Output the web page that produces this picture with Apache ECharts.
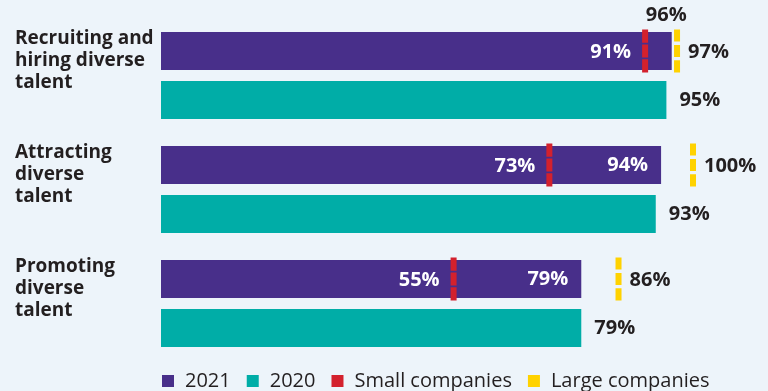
<!DOCTYPE html>
<html>
<head>
<meta charset="utf-8">
<script src="https://cdn.jsdelivr.net/npm/echarts@6/dist/echarts.min.js"></script>
<style>
  html, body { margin: 0; padding: 0; background: #EDF4FA; }
  #chart { width: 768px; height: 391px; }
</style>
</head>
<body>
<div id="chart"></div>
<script>
// Data
const categories = ['Recruiting and\nhiring diverse\ntalent', 'Attracting\ndiverse\ntalent', 'Promoting\ndiverse\ntalent'];
const values2021 = [96, 94, 79];
const values2020 = [95, 93, 79];
const smallCompanies = [91, 73, 55];
const largeCompanies = [97, 100, 86];
const seriesNames = ['2021', '2020', 'Small companies', 'Large companies'];

// Styling
const colors = ['#482F8A', '#00ADA7', '#D3212D', '#FFD200'];
const FONT = '"Open Sans", sans-serif';
const DARK = '#231F20';
const VALUE_SIZE = 20;
const BAR_W = 38;
const BAR_GAP = 11;
const MARK_LEN = 43;

const chart = echarts.init(document.getElementById('chart'), null, { renderer: 'canvas' });

// Bar label for 2021: drawn above the bar end when the large-company marker sits right next to it
const data2021 = values2021.map((v, i) => {
  if (largeCompanies[i] - v < 3) {
    return {
      value: v,
      label: { position: 'insideTopRight', distance: 0, offset: [15, -27], color: DARK }
    };
  }
  return v;
});

function markerSeries(name, values, color, dash, side, labelColor) {
  return {
    type: 'custom',
    name: name,
    itemStyle: { color: color },
    data: values.map((v, i) => [v, i]),
    encode: { x: 0, y: 1 },
    z: 5,
    renderItem: function (params, api) {
      const p = api.coord([api.value(0), api.value(1)]);
      const cy = p[1] - (BAR_W + BAR_GAP) / 2;
      const left = side === 'left';
      return {
        type: 'group',
        children: [
          {
            type: 'line',
            shape: { x1: p[0], y1: cy - MARK_LEN / 2, x2: p[0], y2: cy + MARK_LEN / 2 },
            style: { stroke: color, lineWidth: 6, lineDash: dash, lineCap: 'butt' }
          },
          {
            type: 'text',
            x: p[0] + (left ? -14 : 11),
            y: cy + 1,
            style: {
              text: api.value(0) + '%',
              fill: labelColor,
              fontFamily: FONT,
              fontWeight: 'bold',
              fontSize: VALUE_SIZE,
              align: left ? 'right' : 'left',
              verticalAlign: 'middle'
            }
          }
        ]
      };
    }
  };
}

const option = {
  backgroundColor: '#EDF4FA',
  animation: false,
  grid: { left: 161, right: 75, top: 18.5, bottom: 30.5 },
  xAxis: { type: 'value', min: 0, max: 100, show: false },
  yAxis: {
    type: 'category',
    data: categories,
    inverse: true,
    axisLine: { show: false },
    axisTick: { show: false },
    splitLine: { show: false },
    axisLabel: {
      align: 'left',
      margin: 146,
      verticalAlign: 'middle',
      formatter: function (v) {
        // category name lines, plus a spacer so the block hangs from the top of the band
        return v.split('\n').map(s => '{t|' + s + '}').join('\n') + '\n{s| }';
      },
      rich: {
        t: { fontFamily: FONT, fontWeight: 'bold', fontSize: 19, lineHeight: 22, color: DARK },
        s: { fontSize: 10, lineHeight: 30 }
      }
    }
  },
  legend: {
    left: 162,
    bottom: 0,
    padding: 0,
    icon: 'rect',
    itemWidth: 12,
    itemHeight: 12,
    itemGap: 16,
    data: seriesNames,
    textStyle: { fontFamily: FONT, fontSize: 20, color: DARK, padding: [0, 0, 0, 6] }
  },
  series: [
    {
      type: 'bar',
      name: seriesNames[0],
      data: data2021,
      barWidth: BAR_W,
      barGap: (BAR_GAP / BAR_W * 100) + '%',
      itemStyle: { color: colors[0] },
      label: {
        show: true,
        position: 'insideRight',
        distance: 13,
        formatter: '{c}%',
        color: '#fff',
        fontFamily: FONT,
        fontWeight: 'bold',
        fontSize: VALUE_SIZE
      }
    },
    {
      type: 'bar',
      name: seriesNames[1],
      data: values2020,
      barWidth: BAR_W,
      itemStyle: { color: colors[1] },
      label: {
        show: true,
        position: 'right',
        distance: 13,
        formatter: '{c}%',
        color: DARK,
        fontFamily: FONT,
        fontWeight: 'bold',
        fontSize: VALUE_SIZE
      }
    },
    markerSeries(seriesNames[2], smallCompanies, colors[2], [13.2, 1.7], 'left', '#fff'),
    markerSeries(seriesNames[3], largeCompanies, colors[3], [12.1, 3.3], 'right', DARK)
  ]
};

chart.setOption(option);
</script>
</body>
</html>
